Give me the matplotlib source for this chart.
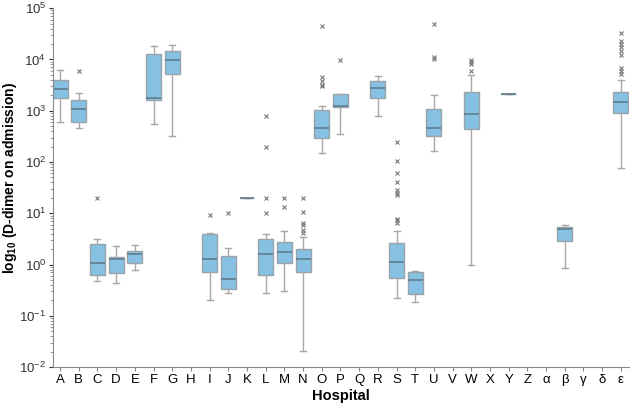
import numpy as np
import matplotlib
matplotlib.use("Agg")
import matplotlib.pyplot as plt
from matplotlib.ticker import NullFormatter

plt.rcParams['font.family'] = ['Liberation Sans', 'DejaVu Sans']
plt.rcParams['mathtext.fontset'] = 'custom'
plt.rcParams['mathtext.rm'] = 'Liberation Sans'
plt.rcParams['mathtext.bf'] = 'Liberation Sans:bold'

# H, Q, V, X, Z, α, γ, δ have no data
hospitals = ['A', 'B', 'C', 'D', 'E', 'F', 'G', 'H', 'I', 'J', 'K', 'L', 'M', 'N', 'O',
             'P', 'Q', 'R', 'S', 'T', 'U', 'V', 'W', 'X', 'Y', 'Z', 'α', 'β', 'γ', 'δ', 'ε']

# box stats
whislo = {'A': 605, 'B': 450, 'C': 0.48, 'D': 0.44, 'E': 0.79, 'F': 545, 'G': 325,
          'I': 0.20, 'J': 0.28, 'K': 20, 'L': 0.28, 'M': 0.31, 'N': 0.021, 'O': 147,
          'P': 355, 'R': 775, 'S': 0.22, 'T': 0.185, 'U': 166, 'W': 0.96, 'Y': 2140,
          'β': 0.85, 'ε': 75}
q1 = {'A': 1730, 'B': 605, 'C': 0.63, 'D': 0.69, 'E': 1.08, 'F': 1650, 'G': 5300,
      'I': 0.71, 'J': 0.33, 'K': 20, 'L': 0.63, 'M': 1.09, 'N': 0.73, 'O': 288,
      'P': 1200, 'R': 1780, 'S': 0.55, 'T': 0.265, 'U': 318, 'W': 445, 'Y': 2140,
      'β': 2.88, 'ε': 922}
med = {'A': 2650, 'B': 1100, 'C': 1.09, 'D': 1.31, 'E': 1.64, 'F': 1780, 'G': 9800,
       'I': 1.29, 'J': 0.53, 'K': 20, 'L': 1.64, 'M': 1.76, 'N': 1.29, 'O': 458,
       'P': 1240, 'R': 2820, 'S': 1.13, 'T': 0.49, 'U': 470, 'W': 845, 'Y': 2140,
       'β': 4.84, 'ε': 1460}
q3 = {'A': 3900, 'B': 1620, 'C': 2.48, 'D': 1.41, 'E': 1.81, 'F': 12900, 'G': 14700,
      'I': 3.9, 'J': 1.5, 'K': 20, 'L': 3.2, 'M': 2.76, 'N': 1.98, 'O': 1020,
      'P': 2100, 'R': 3730, 'S': 2.64, 'T': 0.70, 'U': 1070, 'W': 2350, 'Y': 2140,
      'β': 5.5, 'ε': 2280}
whishi = {'A': 6200, 'B': 2250, 'C': 3.15, 'D': 2.27, 'E': 2.37, 'F': 18000, 'G': 19500,
          'I': 4.1, 'J': 2.07, 'K': 20, 'L': 3.94, 'M': 4.5, 'N': 3.45, 'O': 1260,
          'P': 2150, 'R': 4800, 'S': 4.6, 'T': 0.74, 'U': 2030, 'W': 4900, 'Y': 2140,
          'β': 6.0, 'ε': 4040}
fliers = {'B': [5850], 'C': [20], 'I': [9.2], 'J': [10.2],
          'L': [790, 200, 20, 10], 'M': [20, 13.4],
          'N': [20, 10.5, 6.45, 5.8, 4.8, 4.2],
          'O': [45000, 4600, 3730, 3200, 3000], 'P': [9800],
          'S': [250, 106, 61, 41, 28, 25, 23, 7.8, 7.4, 6.6],
          'U': [48000, 11400, 10300], 'W': [9800, 9100, 8300, 6000],
          'ε': [33000, 23000, 19800, 17500, 14700, 12300, 6950, 5850, 5130]}

fig = plt.figure(figsize=(6.33, 4.07), dpi=100)
ax = fig.add_axes([0.084, 0.098, 0.91, 0.882])

stats, pos = [], []
for i, h in enumerate(hospitals):
    if h not in med:
        continue
    stats.append(dict(whislo=whislo[h], q1=q1[h], med=med[h], q3=q3[h],
                      whishi=whishi[h], fliers=fliers.get(h, [])))
    pos.append(i)

ax.bxp(stats, positions=pos, widths=0.8, patch_artist=True, capwidths=0.32,
       boxprops=dict(facecolor='#86c0e3', edgecolor='#9aa3a8', lw=1),
       medianprops=dict(color='#5f7d8e', lw=1.2),
       whiskerprops=dict(color='#a8a8a8', lw=1.0),
       capprops=dict(color='#a8a8a8', lw=1.0),
       flierprops=dict(marker='x', markersize=3, markeredgecolor='#777777', mew=0.8))

ax.set_yscale('log')
ax.set_ylim(1e-2, 1e5)
ax.yaxis.set_minor_formatter(NullFormatter())
ax.set_xlim(-0.37, 30.45)
ax.set_xticks(range(len(hospitals)))
ax.set_xticklabels(hospitals, fontsize=9.5)
ax.tick_params(axis='y', labelsize=9.5, colors='#333333', length=3, pad=2)
ax.tick_params(axis='y', which='minor', length=2, color='#888888')
ax.tick_params(axis='x', length=3, color='#888888', pad=2)
for s in ['top', 'right']:
    ax.spines[s].set_visible(False)
for s in ['left', 'bottom']:
    ax.spines[s].set_color('#888888')

ax.set_xlabel('Hospital', fontsize=10.5, fontweight='bold')
ax.xaxis.set_label_coords(0.5, -0.062)
ax.set_ylabel(r'log$_{\mathbf{10}}$ (D-dimer on admission)', fontsize=10,
              fontweight='bold')
ax.yaxis.set_label_coords(-0.059, 0.526)

fig.savefig('out.png', dpi=100)
